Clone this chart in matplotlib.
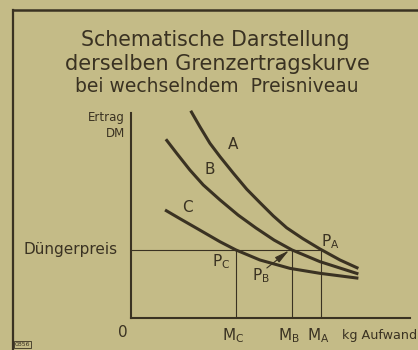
import matplotlib
matplotlib.use('Agg')
import matplotlib.pyplot as plt
from matplotlib.lines import Line2D

plt.rcParams['font.family'] = ['DejaVu Sans']
plt.rcParams['mathtext.fontset'] = 'dejavusans'
plt.rcParams['mathtext.default'] = 'regular'

# Schematic curves (x = kg Aufwand, y = Ertrag DM)
curve_a_x = [2.14, 2.47, 2.83, 3.19, 3.67, 4.15, 4.62, 5.10, 5.58, 6.16, 6.77, 7.49, 8.15]
curve_a_y = [10.11, 9.33, 8.52, 7.87, 7.06, 6.28, 5.63, 4.98, 4.40, 3.87, 3.37, 2.83, 2.42]
curve_b_x = [1.25, 1.64, 2.11, 2.59, 3.19, 3.84, 4.48, 5.13, 5.77, 6.77, 8.15]
curve_b_y = [8.72, 8.03, 7.22, 6.49, 5.76, 5.02, 4.39, 3.80, 3.32, 2.75, 2.15]
curve_c_x = [1.22, 1.76, 2.35, 3.19, 3.76, 4.62, 5.70, 6.77, 8.15]
curve_c_y = [5.27, 4.84, 4.38, 3.72, 3.32, 2.83, 2.42, 2.18, 1.94]

price = 3.32                      # Düngerpreis
m_names = ['M$_C$', 'M$_B$', 'M$_A$']
m_values = [3.76, 5.77, 6.81]     # optimum input per curve

bg = '#c4bb87'
ink = '#3a3222'

fig = plt.figure(figsize=(4.18, 3.5), dpi=100)
fig.patch.set_facecolor(bg)

# outer frame of the plate
fig.add_artist(Line2D([13/418, 13/418], [0, 1 - 10/350], transform=fig.transFigure,
                      color=ink, lw=1.6))
fig.add_artist(Line2D([13/418, 1], [1 - 10/350, 1 - 10/350], transform=fig.transFigure,
                      color=ink, lw=1.8))

# title
fig.text(0.515, 1 - 40/350, 'Schematische Darstellung', ha='center', va='center',
         fontsize=14.8, color=ink)
fig.text(0.521, 1 - 64/350, 'derselben Grenzertragskurve', ha='center', va='center',
         fontsize=15, color=ink)
fig.text(0.518, 1 - 86/350, 'bei wechselndem  Preisniveau', ha='center', va='center',
         fontsize=13.5, color=ink)

ax = fig.add_axes([131/418, 32/350, 279/418, 205/350])
ax.set_facecolor('none')
ax.set_xlim(0, 10)
ax.set_ylim(0, 10)
for s in ['top', 'right']:
    ax.spines[s].set_visible(False)
for s in ['left', 'bottom']:
    ax.spines[s].set_color(ink)
    ax.spines[s].set_linewidth(1.5)
ax.set_xticks([])
ax.set_yticks([])

# price line and the optimum verticals
ax.plot([0, m_values[2]], [price, price], color=ink, lw=0.8)
for m in m_values:
    ax.plot([m, m], [0, price], color=ink, lw=0.8)

for xs, ys in [(curve_a_x, curve_a_y), (curve_b_x, curve_b_y), (curve_c_x, curve_c_y)]:
    ax.plot(xs, ys, color=ink, lw=2.2, solid_capstyle='butt',
            solid_joinstyle='round', clip_on=False)

ax.text(3.66, 8.44, 'A', ha='center', va='center', fontsize=11, color=ink)
ax.text(2.83, 7.22, 'B', ha='center', va='center', fontsize=11, color=ink)
ax.text(2.04, 5.37, 'C', ha='center', va='center', fontsize=11, color=ink)

ax.text(7.13, 3.71, 'P$_A$', ha='center', va='center', fontsize=11, color=ink)
ax.text(3.23, 2.73, 'P$_C$', ha='center', va='center', fontsize=11, color=ink)
ax.text(4.66, 2.05, 'P$_B$', ha='center', va='center', fontsize=11, color=ink)
ax.annotate('', xy=(5.66, 3.29), xytext=(4.87, 2.44),
            arrowprops=dict(arrowstyle='-|>,head_length=1.1,head_width=0.25',
                            color=ink, lw=0.8, mutation_scale=8, shrinkA=0, shrinkB=0))

# axis labels
ax.text(-0.22, 9.76, 'Ertrag', ha='right', va='center', fontsize=8.5, color=ink)
ax.text(-0.22, 9.0, 'DM', ha='right', va='center', fontsize=8.5, color=ink)
ax.text(-0.47, price, 'Düngerpreis', ha='right', va='center', fontsize=11, color=ink)
ax.text(-0.29, -0.7, '0', ha='center', va='center', fontsize=11, color=ink)
for name, m in zip(m_names, m_values):
    ax.text(m - 0.1, -0.85, name, ha='center', va='center', fontsize=11, color=ink)
ax.text(7.55, -0.85, 'kg Aufwand', ha='left', va='center', fontsize=9.2, color=ink)

fig.text(15/418, 3/350, '0856', ha='left', va='bottom', fontsize=4.5, color=ink,
         bbox=dict(boxstyle='square,pad=0.15', fc='none', ec=ink, lw=0.6))

fig.savefig('out.png', dpi=100, facecolor=bg)
